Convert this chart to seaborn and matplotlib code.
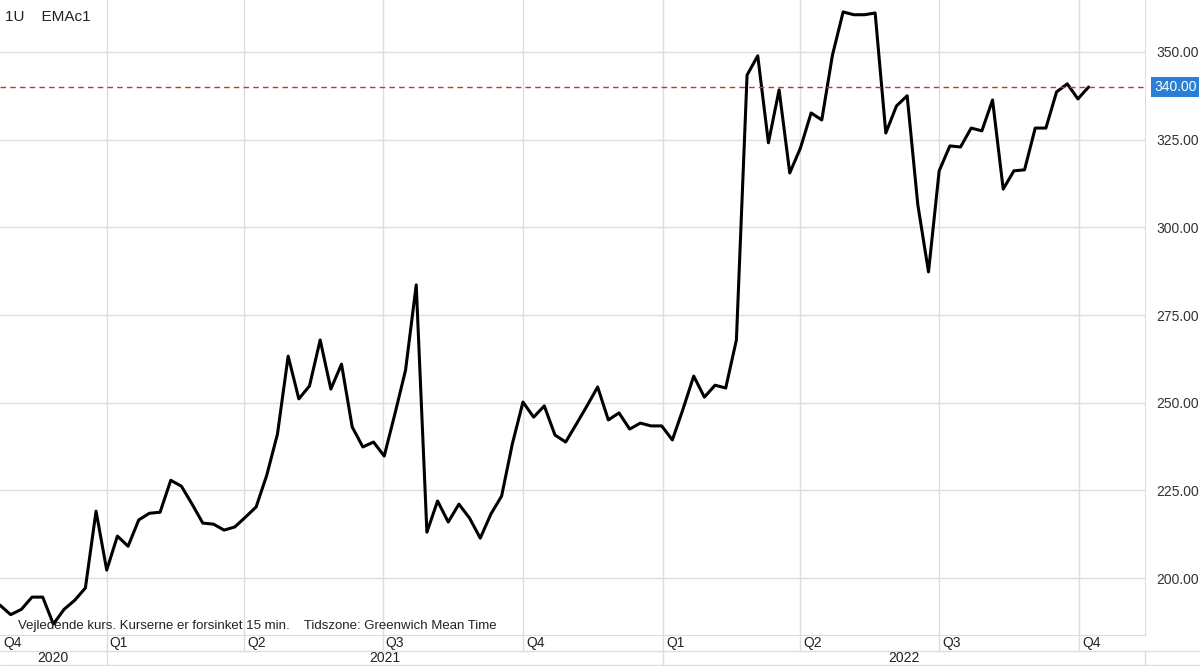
import pandas as pd
import numpy as np
import matplotlib
matplotlib.use("Agg")
import matplotlib.pyplot as plt
import seaborn as sns

# weekly closing prices
start_date = "2020-10-23"
prices = [192.3, 189.6, 191.1, 194.6, 194.6, 186.9, 191.1, 193.7, 197.2, 219.1,
          202.3, 212.0, 209.1, 216.6, 218.5, 218.8, 227.9, 226.2, 221.1, 215.7,
          215.4, 213.7, 214.6, 217.4, 220.3, 229.4, 241.1, 263.3, 251.1, 254.8,
          267.9, 253.9, 261.0, 243.1, 237.4, 238.8, 234.8, 246.8, 259.3, 283.6,
          213.1, 222.0, 216.0, 221.1, 217.1, 211.4, 218.3, 223.4, 238.2, 250.2,
          245.9, 249.1, 240.8, 238.8, 243.9, 249.1, 254.5, 245.1, 247.1, 242.5,
          244.2, 243.4, 243.4, 239.4, 248.2, 257.6, 251.6, 255.0, 254.2, 267.9,
          343.4, 348.9, 324.1, 339.2, 315.5, 322.6, 332.6, 330.6, 349.1, 361.4,
          360.6, 360.6, 361.1, 326.9, 334.6, 337.5, 306.4, 287.3, 316.1, 323.2,
          322.9, 328.3, 327.5, 336.3, 310.9, 316.1, 316.4, 328.3, 328.3, 338.6,
          340.9, 336.6, 340.0]
last_price = 340.00
quarter_starts = ["2020-10-23", "2021-01-01", "2021-04-01", "2021-07-01", "2021-10-01",
                  "2022-01-01", "2022-04-01", "2022-07-01", "2022-10-01"]
quarter_labels = ["Q4", "Q1", "Q2", "Q3", "Q4", "Q1", "Q2", "Q3", "Q4"]
years = ["2020", "2021", "2022"]
y_ticks = [200, 225, 250, 275, 300, 325, 350]

df = pd.DataFrame({"date": pd.date_range(start_date, periods=len(prices), freq="7D"),
                   "price": prices})
qs = pd.to_datetime(quarter_starts)
x0, x1 = pd.Timestamp("2020-10-23"), pd.Timestamp("2022-11-13")

sns.set_style("white")
plt.rcParams['font.family'] = ['Liberation Sans', 'DejaVu Sans']
fig = plt.figure(figsize=(12, 6.66), dpi=100)
ax = fig.add_axes([0, 31 / 666, 1145 / 1200, 635 / 666])

grid = "#dddddd"
for q in qs[1:]:
    ax.axvline(q, color=grid, lw=1, zorder=0)
for t in y_ticks:
    ax.axhline(t, color=grid, lw=1, zorder=0)

sns.lineplot(data=df, x="date", y="price", ax=ax, color="black", lw=2.2)
ax.axhline(last_price, color="#c0392b", lw=1, ls=(0, (4, 3)))

ax.set_xlim(x0, x1)
ax.set_ylim(183.8, 364.8)
ax.yaxis.tick_right()
ax.set_yticks(y_ticks)
ax.set_yticklabels([f"{t:.2f}" for t in y_ticks])
ax.tick_params(axis="y", length=0, labelsize=10, colors="#333333", pad=8)
ax.set_xticks([])
ax.set_xlabel("")
ax.set_ylabel("")
for s in ax.spines.values():
    s.set_visible(False)
ax.spines["right"].set_visible(True)
ax.spines["right"].set_color(grid)
ax.spines["bottom"].set_visible(True)
ax.spines["bottom"].set_color(grid)

ax.text(1.008, last_price, f"{last_price:.2f}", transform=ax.get_yaxis_transform(),
        va="center", ha="left", fontsize=10, color="white",
        bbox=dict(boxstyle="square,pad=0.2", fc="#2a7fd4", ec="none"))

ax.text(0.004, 0.985, "1U    EMAc1", transform=ax.transAxes, fontsize=11, va="top", color="#222222")
ax.text(0.016, 0.005, "Vejledende kurs. Kurserne er forsinket 15 min.    Tidszone: Greenwich Mean Time",
        transform=ax.transAxes, fontsize=9.5, va="bottom", color="#222222")

xt = ax.get_xaxis_transform()
f1 = -16 / 635
f2 = -31 / 635
ax.plot([0, 1.05], [f1, f1], transform=ax.transAxes, color=grid, lw=1, clip_on=False)
ax.plot([0, 1.05], [f2 + 0.002, f2 + 0.002], transform=ax.transAxes, color=grid, lw=1, clip_on=False)
for i, (q, lab) in enumerate(zip(qs, quarter_labels)):
    if i > 0:
        ax.plot([q, q], [0, f1], transform=xt, color=grid, lw=1, clip_on=False)
    ax.text(q + pd.Timedelta(days=2), f1 / 2, lab, transform=xt, fontsize=10, va="center", color="#222222")
year_edges = [x0, pd.Timestamp("2021-01-01"), pd.Timestamp("2022-01-01"), x1]
for i, y in enumerate(years):
    ax.plot([year_edges[i + 1]] * 2, [f1, f2], transform=xt, color=grid, lw=1, clip_on=False)
    mid = year_edges[i] + (year_edges[i + 1] - year_edges[i]) / 2
    ax.text(mid, (f1 + f2) / 2, y, transform=xt, fontsize=10, ha="center", va="center", color="#222222")

fig.savefig("out.png", dpi=100)
